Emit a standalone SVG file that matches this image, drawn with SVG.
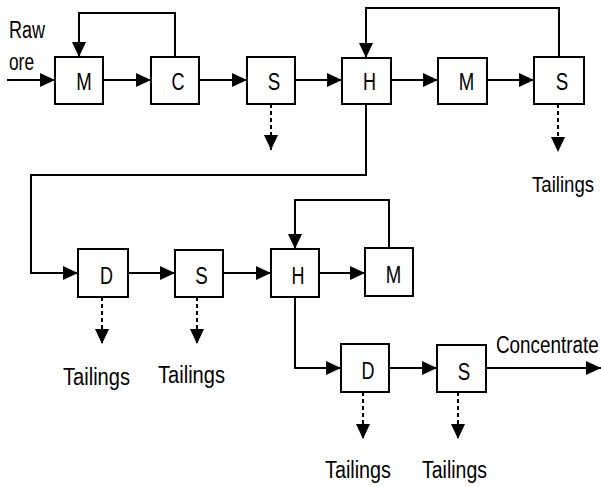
<svg xmlns="http://www.w3.org/2000/svg" width="601" height="487" viewBox="0 0 601 487">
<defs>
<style>
.box{fill:#fff;stroke:#000;stroke-width:2}
.ln{fill:none;stroke:#000;stroke-width:2}
.ds{fill:none;stroke:#000;stroke-width:2;stroke-dasharray:4 3}
text{font-family:"Liberation Sans",Arial,sans-serif;font-size:23px;fill:#000}
.c{text-anchor:middle}
</style>
<marker id="ah" markerUnits="userSpaceOnUse" markerWidth="16" markerHeight="15" refX="15" refY="7" orient="auto" viewBox="0 0 16 14">
<path d="M0,0 L15,7 L0,14 z" fill="#000"/>
</marker>
</defs>
<rect width="601" height="487" fill="#fff"/>
<g id="connectors">
<path class="ln" d="M7,80 H55" marker-end="url(#ah)"/>
<path class="ln" d="M103,80 H151" marker-end="url(#ah)"/>
<path class="ln" d="M199,80 H247" marker-end="url(#ah)"/>
<path class="ln" d="M295,80 H342" marker-end="url(#ah)"/>
<path class="ln" d="M391,80 H438" marker-end="url(#ah)"/>
<path class="ln" d="M487,80 H534" marker-end="url(#ah)"/>
<path class="ln" d="M175,57 V13 H79 V57" marker-end="url(#ah)"/>
<path class="ln" d="M559,57 V8 H366 V58" marker-end="url(#ah)"/>
<path class="ds" d="M271,104 V150" marker-end="url(#ah)"/>
<path class="ds" d="M558,104 V152" marker-end="url(#ah)"/>
<path class="ln" d="M366,104 V175 H31 V273 H78" marker-end="url(#ah)"/>
<path class="ln" d="M128,273 H175" marker-end="url(#ah)"/>
<path class="ln" d="M223,273 H271" marker-end="url(#ah)"/>
<path class="ln" d="M319,273 H365" marker-end="url(#ah)"/>
<path class="ln" d="M389,248 V200 H295 V249" marker-end="url(#ah)"/>
<path class="ds" d="M102,297 V344" marker-end="url(#ah)"/>
<path class="ds" d="M197,297 V344" marker-end="url(#ah)"/>
<path class="ln" d="M295,297 V368 H341" marker-end="url(#ah)"/>
<path class="ln" d="M389,368 H437" marker-end="url(#ah)"/>
<path class="ln" d="M486,368 H601" marker-end="url(#ah)"/>
<path class="ds" d="M363,392 V439" marker-end="url(#ah)"/>
<path class="ds" d="M458,392 V439" marker-end="url(#ah)"/>
</g>
<g id="n-M1"><rect class="box" x="55" y="57" width="48" height="47"/><text class="c" x="84" y="90" textLength="15.5" lengthAdjust="spacingAndGlyphs">M</text></g>
<g id="n-C1"><rect class="box" x="151" y="57" width="48" height="47"/><text class="c" x="178" y="90" textLength="13" lengthAdjust="spacingAndGlyphs">C</text></g>
<g id="n-S1"><rect class="box" x="247" y="57" width="48" height="47"/><text class="c" x="274" y="90" textLength="12.5" lengthAdjust="spacingAndGlyphs">S</text></g>
<g id="n-H1"><rect class="box" x="342" y="58" width="49" height="46"/><text class="c" x="369.5" y="90" textLength="13" lengthAdjust="spacingAndGlyphs">H</text></g>
<g id="n-M2"><rect class="box" x="438" y="58" width="49" height="46"/><text class="c" x="466.5" y="90" textLength="15.5" lengthAdjust="spacingAndGlyphs">M</text></g>
<g id="n-S2"><rect class="box" x="534" y="57" width="50" height="47"/><text class="c" x="562" y="90" textLength="12.5" lengthAdjust="spacingAndGlyphs">S</text></g>
<g id="n-D2"><rect class="box" x="78" y="249" width="50" height="48"/><text class="c" x="106.5" y="283.5" textLength="13" lengthAdjust="spacingAndGlyphs">D</text></g>
<g id="n-S3"><rect class="box" x="175" y="250" width="48" height="47"/><text class="c" x="201.5" y="283.5" textLength="12.5" lengthAdjust="spacingAndGlyphs">S</text></g>
<g id="n-H2"><rect class="box" x="271" y="249" width="48" height="48"/><text class="c" x="298" y="283.5" textLength="13" lengthAdjust="spacingAndGlyphs">H</text></g>
<g id="n-M3"><rect class="box" x="365" y="248" width="48" height="48"/><text class="c" x="393.5" y="283" textLength="15.5" lengthAdjust="spacingAndGlyphs">M</text></g>
<g id="n-D3"><rect class="box" x="341" y="344" width="48" height="48"/><text class="c" x="368" y="379" textLength="13" lengthAdjust="spacingAndGlyphs">D</text></g>
<g id="n-S4"><rect class="box" x="437" y="345" width="49" height="47"/><text class="c" x="464" y="379.5" textLength="12.5" lengthAdjust="spacingAndGlyphs">S</text></g>
<g id="labels">
<text x="9" y="38" textLength="36" lengthAdjust="spacingAndGlyphs">Raw</text>
<text x="9" y="70" textLength="25" lengthAdjust="spacingAndGlyphs">ore</text>
<text transform="matrix(0.81,0,0,1,532,192)">Tailings</text>
<text x="63" y="385" textLength="67" lengthAdjust="spacingAndGlyphs">Tailings</text>
<text x="158" y="383" textLength="67" lengthAdjust="spacingAndGlyphs">Tailings</text>
<text x="325" y="478" textLength="66" lengthAdjust="spacingAndGlyphs">Tailings</text>
<text x="422" y="478" textLength="65" lengthAdjust="spacingAndGlyphs">Tailings</text>
<text transform="matrix(0.82,0,0,1,496,353)">Concentrate</text>
</g>
</svg>
